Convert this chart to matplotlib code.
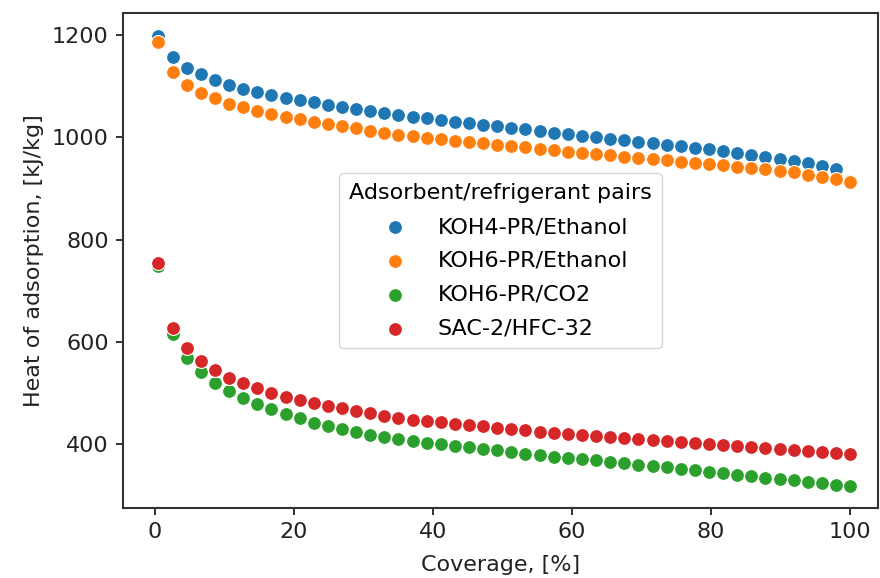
import numpy as np
import matplotlib
matplotlib.use("Agg")
import matplotlib.pyplot as plt

# coverage grid shared by all pairs, in %
coverage = np.linspace(0.5, 100, 50)

koh4_ethanol = [1197, 1156, 1136, 1123, 1112, 1102, 1095, 1089, 1082, 1077,
                1072, 1068, 1063, 1059, 1055, 1051, 1047, 1044, 1040, 1037,
                1033, 1030, 1027, 1024, 1021, 1018, 1015, 1012, 1009, 1006,
                1003, 1000, 997, 994, 991, 988, 985, 982, 979, 976,
                973, 970, 966, 962, 958, 954, 949, 944, 937, 914]

koh6_ethanol = [1186, 1127, 1102, 1087, 1076, 1065, 1058, 1051, 1045, 1039,
                1035, 1030, 1025, 1021, 1017, 1013, 1009, 1005, 1002, 999,
                996, 993, 990, 988, 985, 982, 980, 977, 974, 972,
                969, 967, 965, 962, 960, 957, 955, 952, 950, 947,
                945, 942, 940, 937, 934, 931, 927, 923, 918, 913]

koh6_co2 = [748, 615, 568, 542, 519, 504, 490, 478, 468, 459,
            451, 442, 436, 430, 424, 418, 414, 411, 407, 403,
            400, 397, 394, 390, 388, 385, 382, 379, 376, 374,
            372, 369, 366, 363, 360, 358, 355, 352, 349, 346,
            343, 341, 338, 335, 333, 330, 327, 324, 321, 318]

sac2_hfc32 = [755, 627, 588, 563, 545, 530, 519, 510, 501, 493,
              487, 480, 475, 470, 465, 461, 456, 452, 448, 445,
              443, 440, 437, 435, 432, 430, 427, 425, 422, 420,
              418, 416, 414, 412, 410, 408, 406, 404, 402, 400,
              398, 396, 395, 393, 391, 389, 387, 385, 383, 381]

pairs = ["KOH4-PR/Ethanol", "KOH6-PR/Ethanol", "KOH6-PR/CO2", "SAC-2/HFC-32"]
series = [koh4_ethanol, koh6_ethanol, koh6_co2, sac2_hfc32]
colors = ["#1f77b4", "#ff7f0e", "#2ca02c", "#d62728"]

plt.rcParams["font.family"] = ["DejaVu Sans"]
plt.rcParams["font.size"] = 16

fig = plt.figure(figsize=(8.8, 5.78), dpi=100)
ax = fig.add_axes([0.1394, 0.1206, 0.8583, 0.8564])

for name, vals, c in zip(pairs, series, colors):
    ax.scatter(coverage, vals, s=100, color=c, edgecolor="white",
               linewidth=0.8, label=name, zorder=3)

ax.set_xlim(-4.65, 104.0)
ax.set_ylim(275, 1242)
ax.set_xticks([0, 20, 40, 60, 80, 100])
ax.set_yticks([400, 600, 800, 1000, 1200])
ax.set_xlabel("Coverage, [%]", fontsize=16, color="#222222", labelpad=9)
ax.set_ylabel("Heat of adsorption, [kJ/kg]", fontsize=16, color="#222222",
              labelpad=6)
ax.tick_params(labelsize=16, length=5, width=1.3, colors="#222222", pad=5)
for sp in ax.spines.values():
    sp.set_linewidth(1.5)
    sp.set_color("#333333")

leg = ax.legend(title="Adsorbent/refrigerant pairs", loc="center",
                fontsize=16, title_fontsize=16, markerscale=1.0,
                borderpad=0.45, labelspacing=0.62, handletextpad=0.95)
leg.get_frame().set_edgecolor("#cccccc")

fig.savefig("out.png", dpi=100)
